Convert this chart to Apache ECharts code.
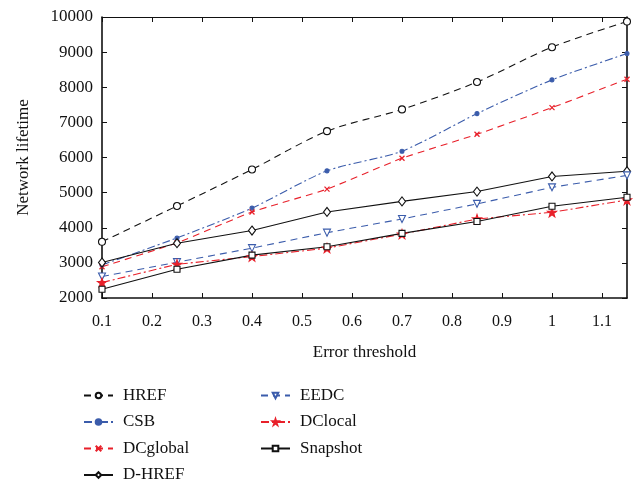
<!DOCTYPE html>
<html><head><meta charset="utf-8">
<script src="https://cdn.jsdelivr.net/npm/echarts@6/dist/echarts.min.js"></script>
<style>html,body{margin:0;padding:0;background:#fff}#c{width:641px;height:485px}</style>
</head><body><div id="c"></div>
<script>
const xs = [0.1, 0.25, 0.4, 0.55, 0.7, 0.85, 1.0, 1.15];
const HREF     = [3600, 4620, 5660, 6750, 7370, 8150, 9140, 9870];
const CSB      = [2940, 3710, 4560, 5620, 6180, 7250, 8210, 8960];
const DCglobal = [2890, 3570, 4450, 5100, 5980, 6660, 7420, 8230];
const DHREF    = [3010, 3560, 3920, 4450, 4750, 5030, 5460, 5610];
const EEDC     = [2610, 3020, 3420, 3860, 4250, 4680, 5150, 5490];
const DClocal  = [2440, 2960, 3180, 3420, 3820, 4250, 4440, 4790];
const Snapshot = [2250, 2820, 3220, 3460, 3840, 4180, 4610, 4870];
const yTicks = [2000, 10000, 1000];

const BLUE = '#3b5cab', RED = '#e8202a', BLACK = '#111';
const FONT = 'Liberation Serif';
const xPath = 'path://M0,0L10,10M10,0L0,10';
function pts(a){ return xs.map((x,i)=>[x,a[i]]); }
function ser(name, data, color, type, symbol, size, fill, smooth){
  return {name, type:'line', data:pts(data), smooth: smooth||false,
    symbol, symbolSize:size,
    lineStyle:{color, width:1.1, type},
    itemStyle:{color: fill ? color : '#fff', borderColor:color, borderWidth:1.1},
    emphasis:{disabled:true}, z: 3};
}
const series = [
  ser('HREF', HREF, BLACK, [7,5], 'circle', 7, false, 0.3),
  ser('CSB', CSB, BLUE, [8,3,2,3], 'circle', 4, true, 0.25),
  ser('DCglobal', DCglobal, RED, [7,5], xPath, 5, false, 0.15),
  ser('D-HREF', DHREF, BLACK, 'solid', 'diamond', [7,9], false),
  ser('EEDC', EEDC, BLUE, [7,5], 'path://M0,0L10,0L5,10Z', 7, false),
  ser('DClocal', DClocal, RED, [8,3,2,3], 'path://M5,0L6.2,3.6L10,3.6L7,5.9L8.1,9.5L5,7.3L1.9,9.5L3,5.9L0,3.6L3.8,3.6Z', 9, true),
  ser('Snapshot', Snapshot, BLACK, 'solid', 'rect', 6, false)
];
series[2].itemStyle = {color: RED, borderColor: RED, borderWidth: 1.3};
const legText = {fontFamily: FONT, fontSize: 17, color: '#111', padding:[0,0,0,5]};
const legCommon = {orient:'vertical', top:387, padding:0, itemWidth:29, itemHeight:7,
  itemGap:9.5, textStyle:legText, selectedMode:false};
const chart = echarts.init(document.getElementById('c'), null, {renderer:'canvas'});
chart.setOption({
  animation:false,
  backgroundColor:'#fff',
  grid:{left:102, right:14, top:17, bottom:187},
  legend:[
    Object.assign({data:['HREF','CSB','DCglobal','D-HREF'], left:83}, legCommon),
    Object.assign({data:['EEDC','DClocal','Snapshot'], left:260}, legCommon)
  ],
  xAxis:[
    {type:'value', min:0.1, max:1.15, interval:0.1,
     name:'Error threshold', nameLocation:'middle', nameGap:46,
     nameTextStyle:{fontFamily:FONT, fontSize:17, color:'#111'},
     axisLine:{lineStyle:{color:BLACK, width:1.6}},
     axisTick:{inside:true, length:5, lineStyle:{color:BLACK}},
     axisLabel:{showMaxLabel:false, fontFamily:FONT, fontSize:16, color:'#111', margin:16},
     splitLine:{show:false}},
    {type:'value', position:'top', min:0.1, max:1.15, interval:0.1,
     axisLine:{lineStyle:{color:BLACK, width:1.2}},
     axisTick:{inside:true, length:5, lineStyle:{color:BLACK}},
     axisLabel:{show:false}, splitLine:{show:false}}
  ],
  yAxis:[
    {type:'value', min:yTicks[0], max:yTicks[1], interval:yTicks[2],
     name:'Network lifetime', nameLocation:'middle', nameGap:70, nameRotate:90,
     nameTextStyle:{fontFamily:FONT, fontSize:17, color:'#111'},
     axisLine:{show:true, lineStyle:{color:BLACK, width:1.6}},
     axisTick:{show:true, inside:true, length:5, lineStyle:{color:BLACK}},
     axisLabel:{fontFamily:FONT, fontSize:17, color:'#111', margin:9,
       formatter: v => String(v)},
     splitLine:{show:false}},
    {type:'value', position:'right', min:yTicks[0], max:yTicks[1], interval:yTicks[2],
     axisLine:{show:true, lineStyle:{color:BLACK, width:1.6}},
     axisTick:{show:true, inside:true, length:5, lineStyle:{color:BLACK}},
     axisLabel:{show:false}, splitLine:{show:false}}
  ],
  series
});
</script></body></html>
